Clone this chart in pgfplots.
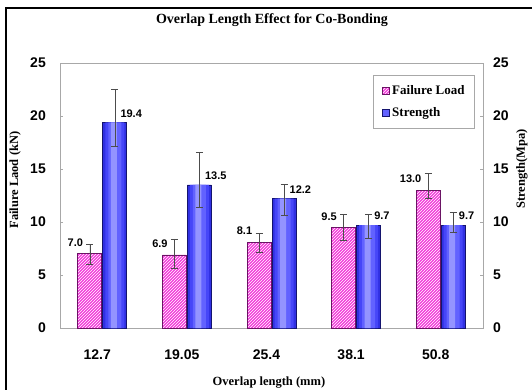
\documentclass[border=0pt]{standalone}
\usepackage{pgfplots}
\pgfplotsset{compat=1.18}
\usepackage{pgfplotstable}
\usepackage{fontspec}
\setmainfont{Liberation Serif}
\setsansfont{Liberation Sans}
\usetikzlibrary{patterns}

\definecolor{loadpink}{HTML}{F23CDA}
\definecolor{loadedge}{HTML}{6A1464}
\definecolor{strdark}{HTML}{3030E2}
\definecolor{strmid}{HTML}{4646F8}
\definecolor{strbright}{HTML}{6262FF}
\definecolor{strlight}{HTML}{9494FF}
\definecolor{stredge}{HTML}{14146E}
\definecolor{framegray}{HTML}{A8A8A8}

% overlap index, failure load (kN) with errors, strength (MPa) with errors
\pgfplotstableread{
x  load lp   lm   str  sp   sm
0  7.0  0.9  1.0  19.4 3.1  2.3
1  6.9  1.5  1.3  13.5 3.1  2.1
2  8.1  0.8  1.0  12.2 1.4  1.6
3  9.5  1.2  1.2  9.7  1.05 1.2
4  13.0 1.6  0.8  9.7  1.2  0.7
}\overlapdata

\newcommand\tickfont{\sffamily\bfseries\fontsize{14}{16}\selectfont}
\newcommand\labfont{\rmfamily\bfseries\fontsize{12.5}{14}\selectfont}
\newcommand\valfont{\sffamily\bfseries\fontsize{11}{13}\selectfont}

\pgfplotsset{
  valuelabels/.style={
    nodes near coords={\pgfmathprintnumber[fixed,fixed zerofill,precision=1]{\pgfplotspointmeta}}},
  errbars/.style={
    error bars/y dir=both, error bars/y explicit,
    error bars/error bar style={black!70, line width=0.6pt},
    error bars/error mark options={rotate=90, black!70, line width=0.6pt, mark size=3.5pt}},
}

\begin{document}
\begin{tikzpicture}[x=1pt,y=1pt]
\useasboundingbox (0,0) rectangle (532,389);
\draw[line width=1.5pt] (6,-2) -- (6,381) -- (536,381);

\begin{axis}[
  at={(60pt,61pt)}, anchor=south west,
  scale only axis, width=423pt, height=265pt,
  xmin=-0.5, xmax=4.5, ymin=0, ymax=25,
  ybar,
  axis line style={framegray, line width=0.9pt},
  xtick={0,...,4},
  xticklabels={12.7,19.05,25.4,38.1,50.8},
  xtick style={draw=none},
  extra x ticks={0.5,1.5,2.5,3.5},
  extra x tick labels={},
  extra x tick style={tick style={framegray, line width=0.8pt, draw=framegray}, major tick length=3pt, tick align=inside},
  ytick={0,5,...,25},
  ytick pos=left, xtick pos=bottom,
  tick align=inside, major tick length=3pt,
  ytick style={framegray, line width=0.8pt},
  /pgf/number format/assume math mode=true,
  tick label style={font=\tickfont},
  xticklabel style={anchor=center, yshift=-27pt, xshift=-5pt},
  yticklabel style={anchor=east, inner sep=0pt, xshift=-14pt},
  title={Overlap Length Effect for Co-Bonding},
  title style={at={(axis description cs:0.501,1.14)}, anchor=center,
    font=\rmfamily\bfseries\fontsize{14}{16}\selectfont},
  xlabel={Overlap length (mm)},
  every axis x label/.style={at={(axis description cs:0.494,-0.204)}, anchor=center, font=\labfont},
  ylabel={Failure Laod (kN)},
  every axis y label/.style={at={(axis description cs:-0.106,0.558)}, rotate=90, anchor=center, font=\labfont},
  legend style={at={(axis description cs:0.981,0.955)}, anchor=north east,
    draw=framegray, line width=0.8pt, fill=white,
    font=\rmfamily\bfseries\fontsize{13}{15}\selectfont,
    row sep=8pt, inner xsep=8pt, inner ysep=8pt,
    /tikz/every odd column/.append style={column sep=1pt}},
  legend cell align=left,
  legend image code/.code={\draw[#1] (0pt,-3.5pt) rectangle (7pt,3.5pt);},
]
% failure load: hatched magenta bars
\addplot[
  bar width=24pt, bar shift=-12.5pt,
  fill=loadpink, draw=loadedge, line width=0.7pt,
  postaction={pattern=north east lines, pattern color=white},
  valuelabels,
  every node near coord/.style={anchor=east, inner xsep=1pt, inner ysep=1pt, xshift=-18pt, yshift=11pt, black, font=\valfont},
  errbars,
] table[x=x, y=load, y error plus=lp, y error minus=lm] {\overlapdata};
\addlegendentry{Failure Load}

% strength: blue bars, lit from the middle
\addplot[
  bar width=24pt, bar shift=12.5pt,
  fill=strdark, draw=stredge, line width=0.7pt,
  legend image code/.code={\draw[draw=stredge, line width=0.7pt, fill=strbright] (0pt,-3.5pt) rectangle (7pt,3.5pt);},
] table[x=x, y=str] {\overlapdata};
\addlegendentry{Strength}
\addplot[forget plot, bar width=19pt, bar shift=12.5pt, fill=strmid, draw=none]
  table[x=x, y=str] {\overlapdata};
\addplot[forget plot, bar width=13pt, bar shift=12.5pt, fill=strbright, draw=none]
  table[x=x, y=str] {\overlapdata};
\addplot[forget plot, bar width=6pt, bar shift=11.5pt, fill=strlight, draw=none]
  table[x=x, y=str] {\overlapdata};
% strength error bars and values on top of the shading
\addplot[forget plot, bar width=24pt, bar shift=12.5pt, draw=none, fill=none,
  valuelabels,
  every node near coord/.style={anchor=west, inner xsep=1pt, inner ysep=1pt, xshift=17pt, yshift=9pt, black, font=\valfont},
  errbars,
] table[x=x, y=str, y error plus=sp, y error minus=sm] {\overlapdata};
\end{axis}

% right-hand strength scale
\begin{axis}[
  at={(60pt,61pt)}, anchor=south west,
  scale only axis, width=423pt, height=265pt,
  xmin=-0.5, xmax=4.5, ymin=0, ymax=25,
  axis x line=none, axis y line*=right,
  axis line style={framegray, line width=0.9pt},
  ytick={0,5,...,25},
  tick align=inside, major tick length=3pt,
  ytick style={framegray, line width=0.8pt},
  /pgf/number format/assume math mode=true,
  tick label style={font=\tickfont},
  yticklabel style={anchor=west, inner sep=0pt, xshift=10pt},
  ylabel={Strength(Mpa)},
  every axis y label/.style={at={(axis description cs:1.092,0.6)}, rotate=90, anchor=center, font=\labfont},
]
\addplot[draw=none] coordinates {(0,0)};
\end{axis}
\end{tikzpicture}
\end{document}
